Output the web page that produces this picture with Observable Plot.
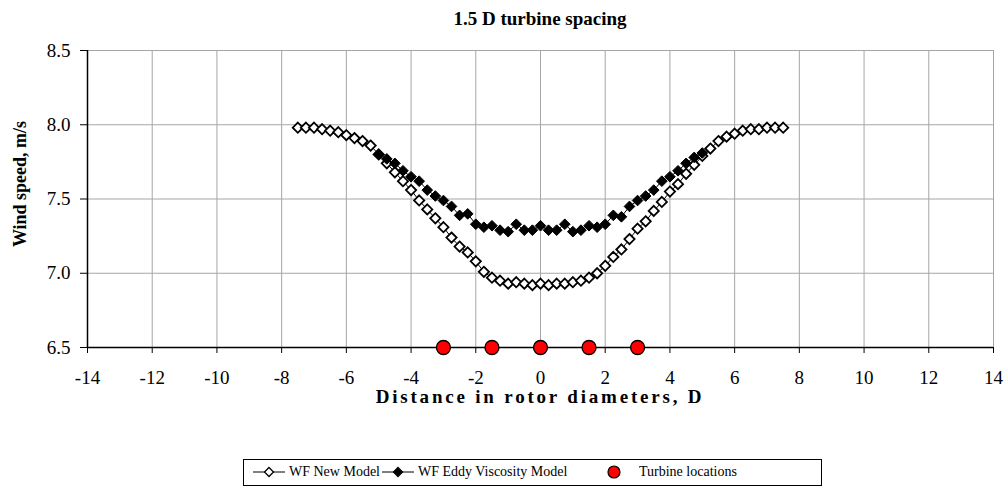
<!DOCTYPE html>
<html>
<head>
<meta charset="utf-8">
<script src="https://cdn.jsdelivr.net/npm/d3@7"></script>
<script src="https://cdn.jsdelivr.net/npm/@observablehq/plot@0.6"></script>
<style>
  html, body { margin: 0; padding: 0; background: #fff; }
  body { width: 1008px; height: 489px; position: relative; overflow: hidden; font-family: "Liberation Serif", "Times New Roman", serif; }
  #chart { position: absolute; left: 0; top: 0; z-index: 0; }
  .title { position: absolute; left: 340px; width: 400px; top: 8px; text-align: center; font-weight: bold; font-size: 19px; z-index: 2; }
  .legend { position: absolute; left: 243px; top: 459px; width: 579px; height: 27px; border: 1px solid #000; box-sizing: border-box; font-size: 14px; z-index: 2; background: #fff; }
  .legend .item { position: absolute; top: 4px; white-space: nowrap; display: flex; align-items: center; }
  .legend svg { display: block; }
</style>
</head>
<body>
<div id="chart"></div>
<div class="title">1.5 D turbine spacing</div>
<div class="legend" id="legend"></div>
<script>
// Distance in rotor diameters (New Model)
const newX = [-7.5,-7.25,-7,-6.75,-6.5,-6.25,-6,-5.75,-5.5,-5.25,-5,-4.75,-4.5,-4.25,-4,-3.75,-3.5,-3.25,-3,-2.75,-2.5,-2.25,-2,-1.75,-1.5,-1.25,-1,-0.75,-0.5,-0.25,0,0.25,0.5,0.75,1,1.25,1.5,1.75,2,2.25,2.5,2.75,3,3.25,3.5,3.75,4,4.25,4.5,4.75,5,5.25,5.5,5.75,6,6.25,6.5,6.75,7,7.25,7.5];
const newY = [7.98,7.98,7.98,7.97,7.96,7.95,7.93,7.91,7.89,7.86,7.80,7.74,7.68,7.62,7.56,7.49,7.43,7.37,7.31,7.24,7.18,7.14,7.08,7.01,6.97,6.95,6.93,6.94,6.93,6.92,6.93,6.92,6.93,6.93,6.94,6.95,6.97,7.00,7.05,7.11,7.16,7.23,7.30,7.35,7.42,7.48,7.55,7.60,7.67,7.73,7.79,7.84,7.89,7.92,7.94,7.96,7.97,7.97,7.98,7.98,7.98];
// Eddy Viscosity Model
const eddyX = [-5,-4.75,-4.5,-4.25,-4,-3.75,-3.5,-3.25,-3,-2.75,-2.5,-2.25,-2,-1.75,-1.5,-1.25,-1,-0.75,-0.5,-0.25,0,0.25,0.5,0.75,1,1.25,1.5,1.75,2,2.25,2.5,2.75,3,3.25,3.5,3.75,4,4.25,4.5,4.75,5];
const eddyY = [7.80,7.77,7.74,7.69,7.65,7.62,7.56,7.52,7.49,7.45,7.39,7.40,7.33,7.31,7.32,7.29,7.28,7.33,7.29,7.29,7.32,7.29,7.29,7.33,7.28,7.29,7.32,7.31,7.33,7.39,7.38,7.45,7.49,7.52,7.56,7.62,7.65,7.69,7.74,7.78,7.81];
// Turbine locations
const turbX = [-3,-1.5,0,1.5,3];
const turbY = [6.5,6.5,6.5,6.5,6.5];
const xTicks = [-14,-12,-10,-8,-6,-4,-2,0,2,4,6,8,10,12,14];
const yTicks = [6.5,7.0,7.5,8.0,8.5];
const seriesNames = ["WF New Model","WF Eddy Viscosity Model","Turbine locations"];

const newData = newX.map((x,i)=>({x, y:newY[i]}));
const eddyData = eddyX.map((x,i)=>({x, y:eddyY[i]}));
const turbData = turbX.map((x,i)=>({x, y:turbY[i]}));

const font = "Liberation Serif";
const chart = Plot.plot({
  width: 1008,
  height: 440,
  marginLeft: 87,
  marginRight: 15,
  marginTop: 50,
  marginBottom: 93,
  style: { fontSize: "19px", background: "#fff", color: "#000", fontFamily: font },
  x: { domain: [-14, 14] },
  y: { domain: [6.5, 8.5] },
  marks: [
    Plot.gridX(xTicks, { stroke: "#a6a6a6", strokeOpacity: 1, strokeWidth: 1 }),
    Plot.gridY(yTicks, { stroke: "#a6a6a6", strokeOpacity: 1, strokeWidth: 1 }),
    Plot.axisX({ ticks: xTicks, tickSize: 6, tickPadding: 17, tickFormat: d => String(d), label: null, fontSize: 19, fontFamily: font, fontVariant: "normal" }),
    Plot.axisY({ ticks: yTicks, tickSize: 7, tickPadding: 10, tickFormat: d => d.toFixed(1), label: null, fontSize: 19, fontFamily: font, fontVariant: "normal" }),
    Plot.ruleX([-14], { stroke: "#000", strokeWidth: 1.5 }),
    Plot.ruleY([6.5], { stroke: "#000", strokeWidth: 1.5 }),
    Plot.line(newData, { x: "x", y: "y", stroke: "#000", strokeWidth: 1 }),
    Plot.line(eddyData, { x: "x", y: "y", stroke: "#000", strokeWidth: 1 }),
    Plot.dot(newData, { x: "x", y: "y", symbol: "diamond2", r: 4.6, fill: "#fff", stroke: "#000", strokeWidth: 1.8 }),
    Plot.dot(eddyData, { x: "x", y: "y", symbol: "diamond2", r: 4.8, fill: "#000", stroke: "#000", strokeWidth: 1 }),
    Plot.dot(turbData, { x: "x", y: "y", r: 7, fill: "#ff0000", stroke: "#000", strokeWidth: 1.3 })
  ]
});
document.getElementById("chart").appendChild(chart);

const svg = d3.select(chart);
// axis titles
svg.append("text")
  .attr("transform", "translate(26,184) rotate(-90)")
  .attr("text-anchor", "middle")
  .attr("font-weight", "bold").attr("font-size", 18)
  .attr("font-family", font)
  .text("Wind speed, m/s");
svg.append("text")
  .attr("x", 540).attr("y", 403)
  .attr("text-anchor", "middle")
  .attr("font-weight", "bold").attr("font-size", 19)
  .attr("letter-spacing", 2.8)
  .attr("font-family", font)
  .text("Distance in rotor diameters, D");

// legend
const leg = document.getElementById("legend");
function item(left, svgMarkup, text, gap) {
  const d = document.createElement("div");
  d.className = "item";
  d.style.left = left + "px";
  d.innerHTML = svgMarkup + '<span style="margin-left:' + gap + 'px">' + text + '</span>';
  leg.appendChild(d);
}
const lineSym = (fill) => `<svg width="34" height="16"><line x1="1" y1="8" x2="33" y2="8" stroke="#000" stroke-width="1"/><path d="M17,3.5L21.5,8L17,12.5L12.5,8Z" fill="${fill}" stroke="#000" stroke-width="1.3"/></svg>`;
item(8, lineSym("#fff"), seriesNames[0], 3);
item(137, lineSym("#000"), seriesNames[1], 3);
item(362, `<svg width="16" height="16"><circle cx="8" cy="8" r="6" fill="#ff0000" stroke="#000" stroke-width="1.2"/></svg>`, seriesNames[2], 17);
</script>
</body>
</html>
